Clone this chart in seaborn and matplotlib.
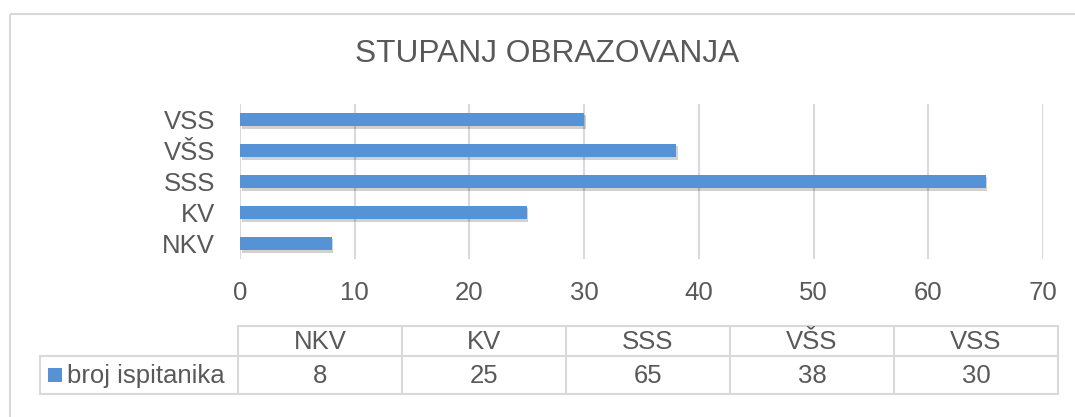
import matplotlib
matplotlib.use("Agg")
import matplotlib.pyplot as plt
import matplotlib.patheffects as pe
from matplotlib.patches import Rectangle
import seaborn as sns
import pandas as pd

# ---- data ----
categories = ["NKV", "KV", "SSS", "VŠS", "VSS"]
values = [8, 25, 65, 38, 30]
series_name = "broj ispitanika"
title = "STUPANJ OBRAZOVANJA"
x_ticks = [0, 10, 20, 30, 40, 50, 60, 70]

sns.set_theme(style="white")
plt.rcParams["font.family"] = ["Liberation Sans", "DejaVu Sans"]

TXT = "#595959"
GRID = "#d9d9d9"
BAR = "#5592d6"
FS = 18.5

W, H = 1075, 417
fig = plt.figure(figsize=(W / 100, H / 100), dpi=100)

# overlay axes in pixel coordinates for frame/table
bg = fig.add_axes([0, 0, 1, 1])
bg.set_xlim(0, W)
bg.set_ylim(H, 0)
bg.axis("off")
bg.add_patch(Rectangle((10, 14), W + 20, H + 20, fill=False, edgecolor=GRID, lw=1.5))

# bar chart axes
ax_left, ax_right, ax_top, ax_bot = 240, 1043, 104, 259
ax = fig.add_axes([ax_left / W, 1 - ax_bot / H, (ax_right - ax_left) / W, (ax_bot - ax_top) / H])

df = pd.DataFrame({"cat": categories[::-1], "val": values[::-1]})
sns.barplot(data=df, y="cat", x="val", orient="h", color=BAR, width=0.45,
            saturation=1, ax=ax, order=categories[::-1])
for p in ax.patches:
    p.set_path_effects([pe.SimplePatchShadow(offset=(1.2, -2.0), shadow_rgbFace="#000000", alpha=0.18),
                        pe.Normal()])
    p.set_edgecolor("none")

ax.set_xlim(0, 70)
ax.set_xticks(x_ticks)
ax.set_xticklabels([str(t) for t in x_ticks])
ax.grid(axis="x", color=GRID, lw=1.5)
ax.set_axisbelow(True)
for s in ax.spines.values():
    s.set_visible(False)
ax.set_xlabel("")
ax.set_ylabel("")
ax.tick_params(axis="both", length=0, labelsize=FS, labelcolor=TXT)
ax.tick_params(axis="y", pad=18)
ax.tick_params(axis="x", pad=16)

fig.text(547 / W, 1 - 54 / H, title, ha="center", va="center", fontsize=22.8, color=TXT)

# ---- data table ----
col0_left, col_start, col_w = 40, 238, 164
row_top, row_mid, row_bot = 326, 356, 394
n = len(categories)
right = col_start + n * col_w
lw = 1.5
bg.plot([col_start, right], [row_top, row_top], color=GRID, lw=lw)
bg.plot([col0_left, right], [row_mid, row_mid], color=GRID, lw=lw)
bg.plot([col0_left, right], [row_bot, row_bot], color=GRID, lw=lw)
bg.plot([col0_left, col0_left], [row_mid, row_bot], color=GRID, lw=lw)
for i in range(n + 1):
    x = col_start + i * col_w
    bg.plot([x, x], [row_top, row_bot], color=GRID, lw=lw)
for i, (c, v) in enumerate(zip(categories, values)):
    cx = col_start + (i + 0.5) * col_w
    bg.text(cx, (row_top + row_mid) / 2 + 1, c, ha="center", va="center", fontsize=FS, color=TXT)
    bg.text(cx, (row_mid + row_bot) / 2 + 1, str(v), ha="center", va="center", fontsize=FS, color=TXT)
bg.add_patch(Rectangle((48, 368), 14, 14, facecolor=BAR, edgecolor="none"))
bg.text(67, (row_mid + row_bot) / 2 + 1, series_name, ha="left", va="center", fontsize=FS, color=TXT)

fig.savefig("out.png", dpi=100)
